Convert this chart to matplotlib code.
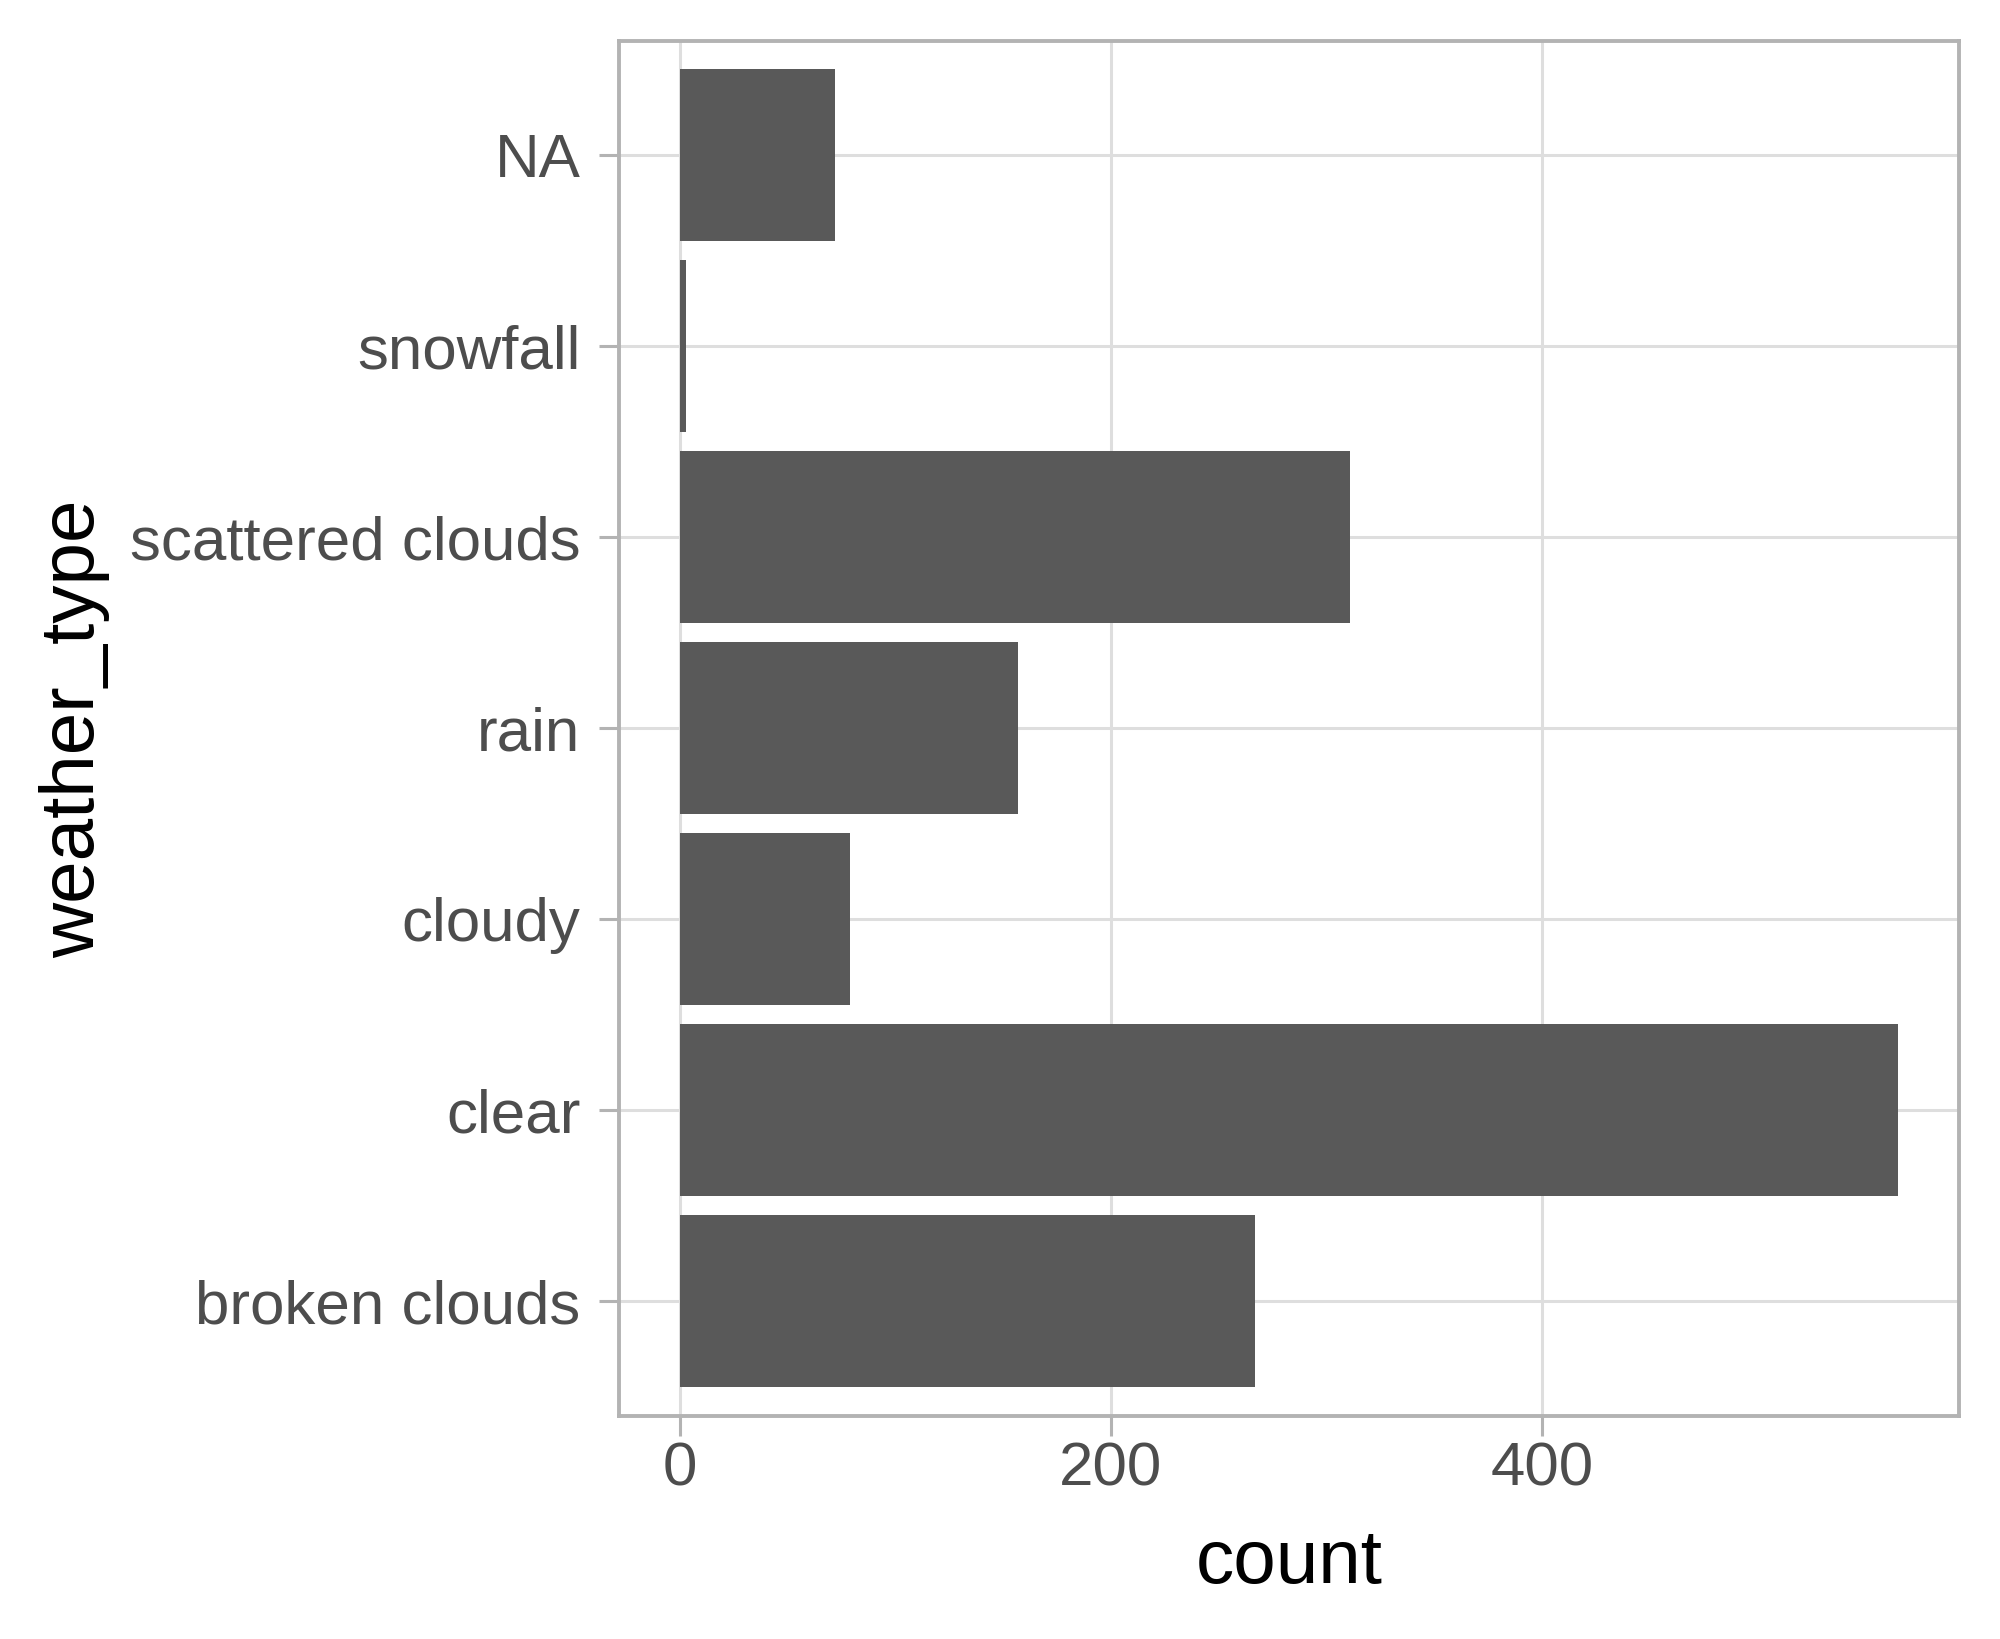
import matplotlib
matplotlib.use("Agg")
import matplotlib.pyplot as plt

# bar counts per weather type (bottom to top)
weather_types = ["broken clouds", "clear", "cloudy", "rain", "scattered clouds", "snowfall", "NA"]
counts = [267, 565, 79, 157, 311, 3, 72]

x_ticks = [0, 200, 400]

plt.rcParams['font.family'] = ['Liberation Sans', 'DejaVu Sans']

fig = plt.figure(figsize=(10, 8.195), dpi=200)
ax = fig.add_axes([0.3093, 0.1362, 0.6702, 0.8389])

ypos = list(range(len(weather_types)))
ax.barh(ypos, counts, height=0.9, color="#595959", zorder=2)

# ggplot-like expansion
xmax = max(counts)
ax.set_xlim(-0.05 * xmax, 1.05 * xmax)
ax.set_ylim(-0.6, len(weather_types) - 0.4)

ax.set_xticks(x_ticks)
ax.set_yticks(ypos)
ax.set_yticklabels(weather_types)

# theme_light look
ax.grid(True, color="#DEDEDE", linewidth=1.1, zorder=0)
ax.set_axisbelow(True)
for sp in ax.spines.values():
    sp.set_color("#B3B3B3")
    sp.set_linewidth(1.4)

ax.tick_params(axis="both", colors="#B3B3B3", labelcolor="#4D4D4D",
               labelsize=22.3, length=7.3, width=1.1)
ax.tick_params(axis="x", pad=2)
ax.tick_params(axis="y", pad=6.5)

ax.set_xlabel("count", fontsize=27.5, color="black", va="baseline")
ax.xaxis.set_label_coords(0.5, -0.1217)
ax.set_ylabel("weather_type", fontsize=27.5, color="black", va="baseline")
ax.yaxis.set_label_coords(-0.3914, 0.5)

fig.savefig("out.png", dpi=200, facecolor="white")
